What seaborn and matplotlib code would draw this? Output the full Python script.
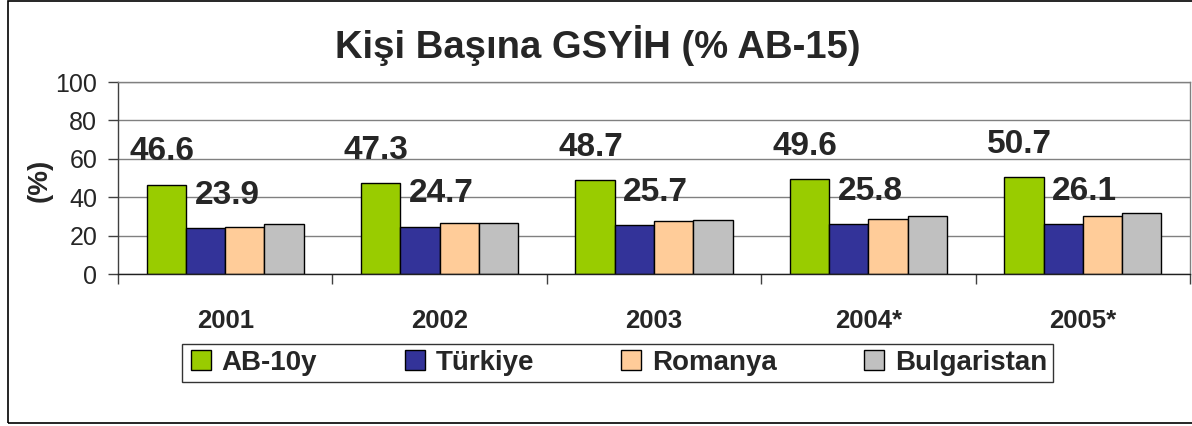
import pandas as pd
import seaborn as sns
import matplotlib.pyplot as plt
from matplotlib.patches import Rectangle

# Values (% of EU-15)
years = ["2001", "2002", "2003", "2004*", "2005*"]
ab10 = [46.6, 47.3, 48.7, 49.6, 50.7]
turkiye = [23.9, 24.7, 25.7, 25.8, 26.1]
romanya = [24.5, 26.5, 27.6, 28.8, 30.0]
bulgaristan = [26.0, 26.5, 28.3, 30.0, 31.9]
series = ["AB-10y", "Türkiye", "Romanya", "Bulgaristan"]
colors = ["#99CC00", "#333399", "#FFCC99", "#C0C0C0"]

df = pd.DataFrame({
    "year": years * 4,
    "country": [s for s in series for _ in years],
    "value": ab10 + turkiye + romanya + bulgaristan,
})

sns.set_theme(style="white")
plt.rcParams["font.family"] = ["Liberation Sans", "DejaVu Sans"]

fig = plt.figure(figsize=(11.92, 4.26), dpi=100)
ax = fig.add_axes([118 / 1192, 152 / 426, 1072 / 1192, 192 / 426])

sns.barplot(data=df, x="year", y="value", hue="country", palette=colors,
            edgecolor="black", linewidth=1, width=0.733, saturation=1, ax=ax)

# value labels only for the first two series
for cont, vals, dx in [(ax.containers[0], ab10, -0.02), (ax.containers[1], turkiye, 0.1)]:
    for bar, v in zip(cont, vals):
        ax.text(bar.get_x() + bar.get_width() / 2 + dx, v + 17, f"{v:.1f}",
                ha="center", va="center", fontsize=24, fontweight="bold")

ax.set_ylim(0, 100)
ax.set_xlim(-0.5, len(years) - 0.5)
ax.set_yticks(range(0, 101, 20))
ax.yaxis.grid(True, color="#808080", linewidth=1)
ax.set_axisbelow(True)
ax.tick_params(axis="y", left=True, length=7, width=1, color="#404040",
               labelsize=18, pad=8)
ax.tick_params(axis="x", which="major", length=0, pad=25, labelsize=18.5)
for lbl in ax.get_xticklabels():
    lbl.set_fontweight("bold")
ax.set_xticks([i - 0.5 for i in range(len(years) + 1)], minor=True)
ax.tick_params(axis="x", which="minor", bottom=True, length=7, width=1, color="#404040")
ax.set_xlabel("")
ax.set_ylabel("")

ax.spines["left"].set_color("#404040")
ax.spines["bottom"].set_color("#202020")
ax.spines["top"].set_color("#808080")
ax.spines["right"].set_color("#808080")
for sp in ax.spines.values():
    sp.set_linewidth(1)

ax.get_legend().remove()
handles = [plt.Line2D([], [], marker="s", linestyle="", markersize=14,
                      markerfacecolor=c, markeredgecolor="black") for c in colors]
fig.legend(handles, series, loc="center", bbox_to_anchor=(617 / 1192, 1 - 363 / 426),
           ncol=4, frameon=True, fancybox=False, edgecolor="black",
           prop={"weight": "bold", "size": 20}, handletextpad=0.25,
           columnspacing=3.0, borderpad=0.2, handlelength=1.0)

fig.text(598 / 1192, 1 - 45 / 426, "Kişi Başına GSYİH (% AB-15)",
         ha="center", va="center", fontsize=27.5, fontweight="bold")
fig.text(40 / 1192, 1 - 180 / 426, "(%)", ha="center", va="center",
         rotation=90, fontsize=20, fontweight="bold")

# outer chart frame
fig.patches.append(Rectangle((8 / 1192, 3 / 426), 1.2, 422 / 426,
                             transform=fig.transFigure, fill=False,
                             edgecolor="black", linewidth=1.2))

fig.savefig("out.png", dpi=100)
